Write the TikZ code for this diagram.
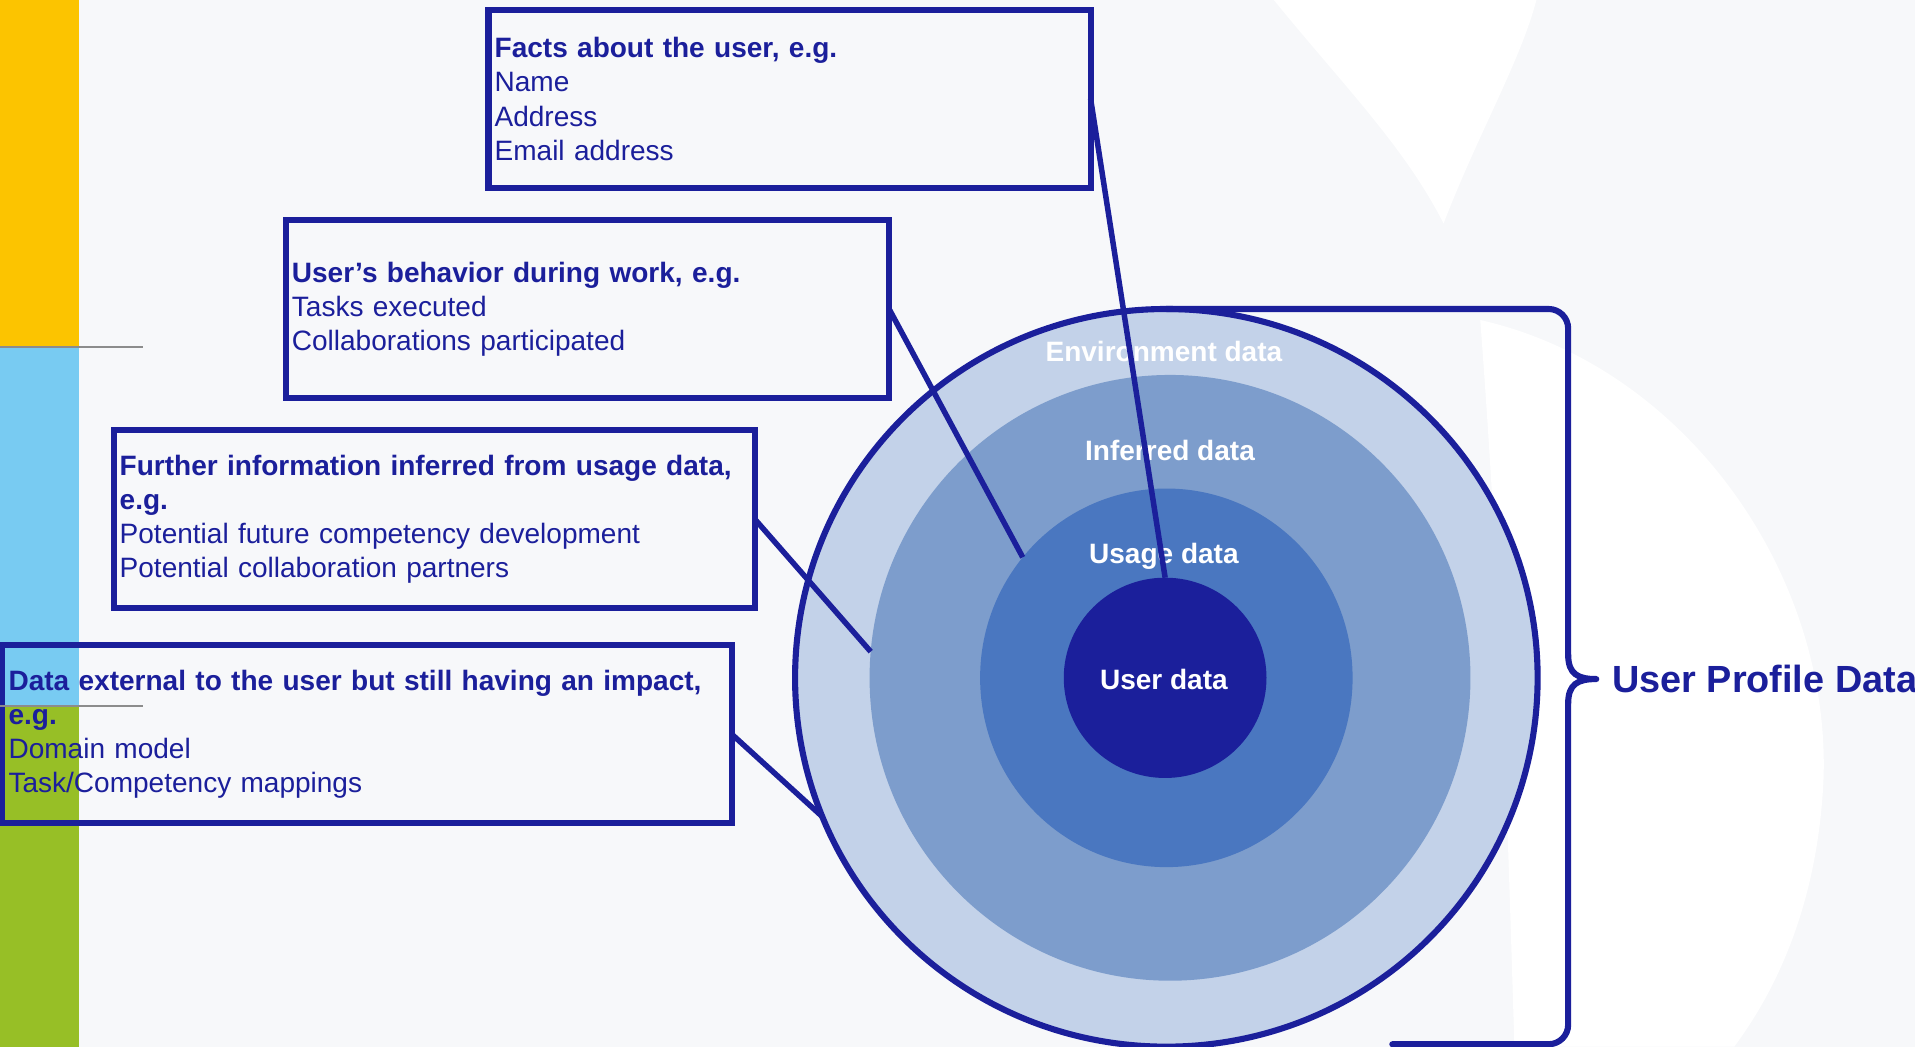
\documentclass[tikz,border=0pt]{standalone}
\usepackage{fontspec}
\setmainfont{Liberation Sans}
\usetikzlibrary{shapes.geometric}
\definecolor{navy}{RGB}{27,31,155}
\definecolor{envblue}{RGB}{195,210,233}
\definecolor{infblue}{RGB}{125,157,204}
\definecolor{useblue}{RGB}{74,119,192}
\definecolor{bggray}{RGB}{247,248,250}
\definecolor{baryellow}{RGB}{252,196,0}
\definecolor{barblue}{RGB}{120,203,242}
\definecolor{bargreen}{RGB}{151,191,38}
\definecolor{rulegray}{RGB}{140,140,140}
\newcommand{\upx}{0.0245cm}
\newcommand{\boxfont}{\fontsize{16}{19.5}\selectfont}
\tikzset{x=\upx, y=-\upx,
         infobox/.style={rectangle, draw=navy, line width=5*\upx, anchor=north west,
                         align=left, inner xsep=5*\upx, inner ysep=0pt, outer sep=0pt,
                         minimum height=146*\upx, text=navy, font=\boxfont},
         ring/.style={ellipse, inner sep=0pt, outer sep=0pt},
         ringlabel/.style={text=white, font=\bfseries\boxfont, text height=11.5pt, text depth=0pt},
         link/.style={draw=navy, line width=4.5*\upx},
         bracket/.style={draw=navy, line width=5*\upx, line cap=round, line join=round},
         }

\begin{document}
\begin{tikzpicture}
    \clip (0,0) rectangle (1568,857);
    \fill[bggray] (0,0) rectangle (1568,857);
    \fill[white] (1043,0) .. controls (1100,70) and (1150,120) .. (1182,183)
                 .. controls (1210,110) and (1245,50) .. (1258,0) -- cycle;
    \fill[white] (1212,262) .. controls (1380,300) and (1500,470) .. (1493,640)
                 .. controls (1488,740) and (1455,810) .. (1420,857)
                 -- (1240,857) .. controls (1235,700) and (1230,500) .. (1212,262) -- cycle;

    \fill[baryellow] (0,0) rectangle (65,284);
    \fill[barblue] (0,284) rectangle (65,578);
    \fill[bargreen] (0,578) rectangle (65,857);

    \node[ring, fill=envblue, draw=navy, line width=5*\upx,
          minimum width=608*\upx, minimum height=604*\upx] (env) at (955,555) {};
    \node[ring, fill=infblue, minimum width=492*\upx, minimum height=496*\upx] (inferred) at (958,555) {};
    \node[ring, fill=useblue, minimum width=305*\upx, minimum height=310*\upx] (usage) at (955,555) {};
    \node[ring, fill=navy, minimum width=166*\upx, minimum height=164*\upx] (user) at (954,555) {};

    \node[ringlabel] (envtext) at (953,288) {Environment data};
    \node[ringlabel] (inferredtext) at (958,369) {Inferred data};
    \node[ringlabel] (usagetext) at (953,453) {Usage data};
    \node[ringlabel] (usertext) at (953,556) {User data};

    \node[infobox, text width=483*\upx] (facts) at (400,8)
        {\textbf{Facts about the user, e.g.}\\Name\\Address\\Email address};
    \node[infobox, text width=484*\upx] (behavior) at (234,180)
        {\textbf{User’s behavior during work, e.g.}\\Tasks executed\\Collaborations participated};
    \node[infobox, text width=515*\upx] (further) at (93,352)
        {\textbf{Further information inferred from usage data,}\\\textbf{e.g.}\\Potential future competency development\\Potential collaboration partners};
    \node[infobox, text width=587*\upx] (external) at (2,528)
        {\textbf{Data external to the user but still having an impact,}\\\textbf{e.g.}\\Domain model\\Task/Competency mappings};

    \draw[link] (facts.east) -- (user.north);
    \draw[link] (behavior.east) -- (usage.140);
    \draw[link] (further.east) -- (inferred.175);
    \draw[link] (external.east) -- (env.202);

    \draw[bracket, rounded corners=16*\upx] (env.north) -- (1284,253) -- (1284,536);
    \draw[bracket] (1284,536) .. controls (1284,552) and (1292,556) .. (1307,556)
                   .. controls (1292,556) and (1284,560) .. (1284,576);
    \draw[bracket, rounded corners=16*\upx] (1284,576) -- (1284,855) -- (1140,855);
    \node[anchor=west, text=navy, font=\bfseries\fontsize{21.6}{26}\selectfont] (profile) at (1315,556) {User Profile Data};

    \draw[rulegray, line width=1.5*\upx] (0,284) -- (117,284);
    \draw[rulegray, line width=1.5*\upx] (0,578) -- (117,578);
\end{tikzpicture}
\end{document}
